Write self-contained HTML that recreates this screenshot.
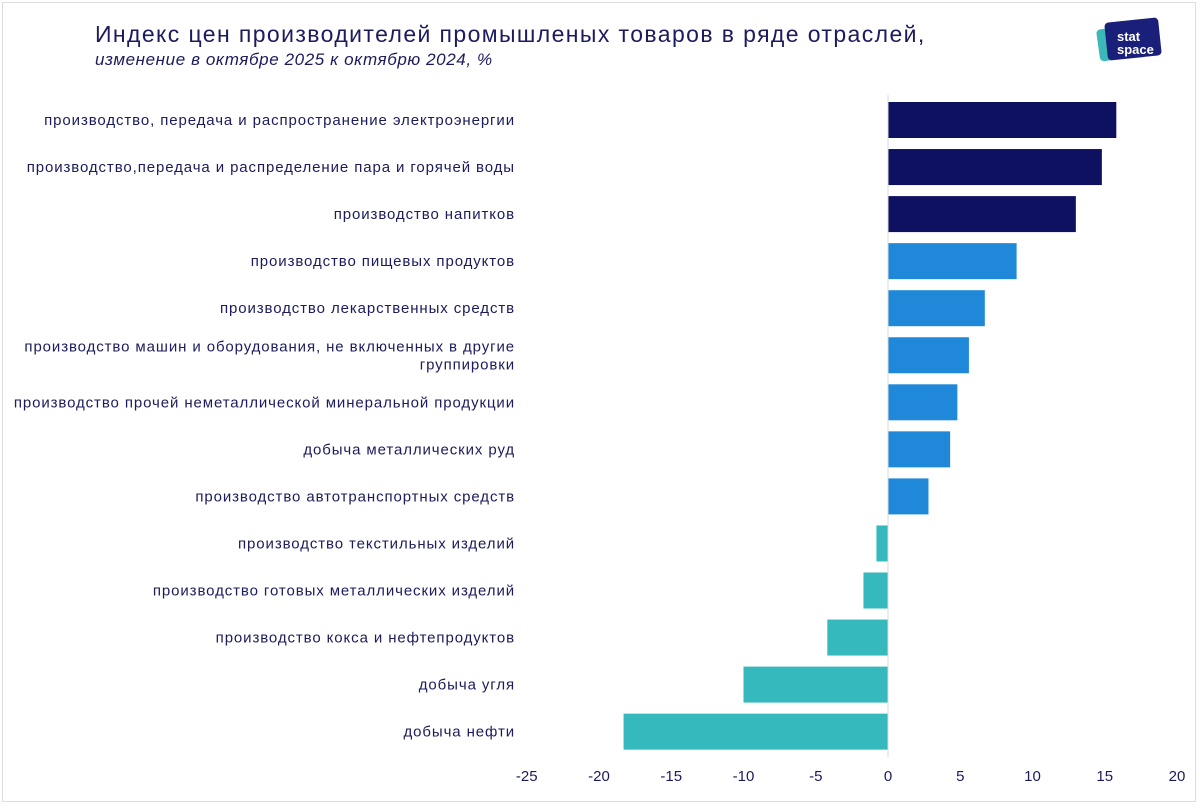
<!DOCTYPE html>
<html><head><meta charset="utf-8"><style>
body{margin:0;width:1200px;height:808px;background:#fff;font-family:"Liberation Sans","DejaVu Sans",sans-serif;overflow:hidden}
#frame{position:absolute;left:2px;top:2px;width:1194px;height:800px;border:1px solid #ddd;box-sizing:border-box}
</style></head><body>
<div id="frame"></div>
<svg width="1200" height="808" style="position:absolute;left:0;top:0">
<text x="95" y="42" font-size="23" letter-spacing="1.4" fill="#1b1b5e">Индекс цен производителей промышленых товаров в ряде отраслей,</text>
<text x="95" y="65" font-size="17" letter-spacing="0.6" font-style="italic" fill="#1b1b5e">изменение в октябре 2025 к октябрю 2024, %</text>
<g>
<rect x="1098" y="27" width="40" height="32" rx="4" fill="#3bb8b8" transform="rotate(-8 1118 43)"/>
<rect x="1106" y="20" width="54" height="38" rx="4" fill="#1a1f7a" transform="rotate(-6 1133 39)"/>
<text x="1117" y="41" font-size="13" font-weight="bold" fill="#fff">stat</text>
<text x="1117" y="54" font-size="13" font-weight="bold" fill="#fff">space</text>
</g>
<g id="bars"></g>
</svg>
<script>
const categories=["производство, передача и распространение электроэнергии","производство,передача и распределение пара и горячей воды","производство напитков","производство пищевых продуктов","производство лекарственных средств","производство машин и оборудования, не включенных в другие|группировки","производство прочей неметаллической минеральной продукции","добыча металлических руд","производство автотранспортных средств","производство текстильных изделий","производство готовых металлических изделий","производство кокса и нефтепродуктов","добыча угля","добыча нефти"];
const values=[15.8,14.8,13.0,8.9,6.7,5.6,4.8,4.3,2.8,-0.8,-1.7,-4.2,-10.0,-18.3];
const groups=[0,0,0,1,1,1,1,1,1,2,2,2,2,2];
const ticks=[-25,-20,-15,-10,-5,0,5,10,15,20];
const colors=["#0e1060","#1f88d9","#36b9bd"];
const NS="http://www.w3.org/2000/svg";
const g=document.getElementById("bars");
const x=v=>888+v*14.45;
const yc=i=>120+i*47.05;
function mk(t,a){const e=document.createElementNS(NS,t);for(const k in a)e.setAttribute(k,a[k]);g.appendChild(e);return e;}
categories.forEach((c,i)=>{
  const v=values[i];
  const r=mk("rect",{x:Math.min(x(0),x(v)),y:yc(i)-18,width:Math.abs(x(v)-x(0)),height:36,fill:colors[groups[i]]});
  
  
  const lines=c.split("|");
  lines.forEach((l,j)=>{
    const t=mk("text",{x:515,y:yc(i)+5+(j-(lines.length-1)/2)*18,"font-size":15,"letter-spacing":0.9,fill:"#1b1b5e","text-anchor":"end"});
    t.textContent=l;
    
    
  });
});
const zl=mk("line",{x1:x(0),x2:x(0),y1:95,y2:757,stroke:"#d8d8d8","stroke-width":1});


ticks.forEach(t=>{
  const e=mk("text",{x:x(t),y:781,"font-size":15,fill:"#1b1b5e","text-anchor":"middle"});
  e.textContent=t;
  
  
});
</script>
</body></html>
